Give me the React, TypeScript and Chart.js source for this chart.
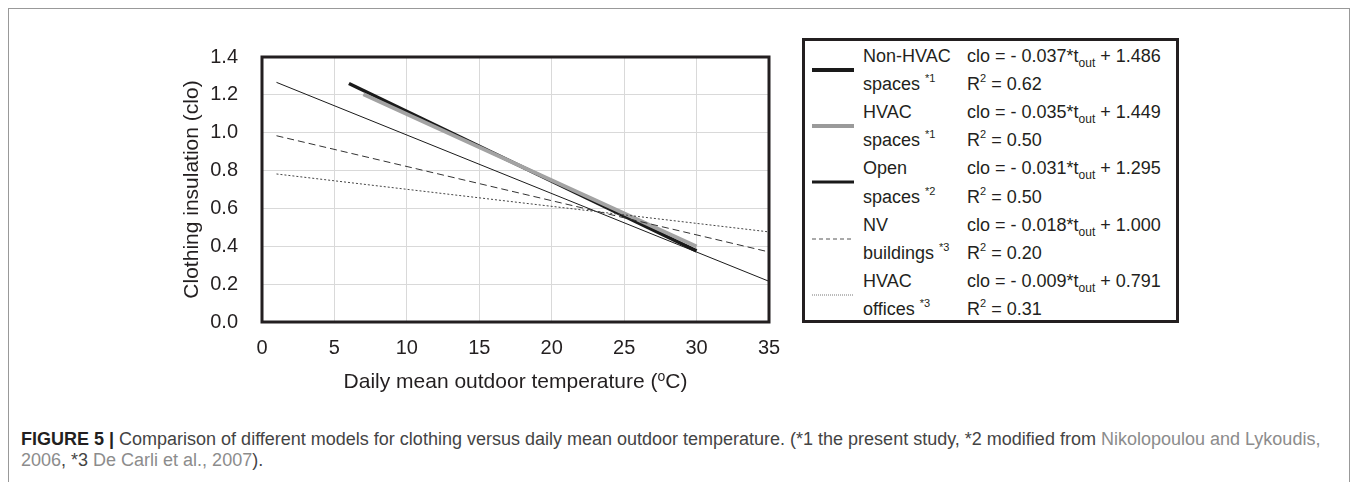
import React, { useEffect, useRef } from "react";
import { Chart, registerables } from "chart.js";

Chart.register(...registerables);

// ---- data ----
const nonHvacX = [6, 30];
const nonHvacY = [1.26, 0.376];
const hvacX = [7, 30];
const hvacY = [1.203, 0.399];
const openX = [1, 35];
const openY = [1.266, 0.215];
const nvX = [1, 35];
const nvY = [0.984, 0.37];
const officesX = [1, 35];
const officesY = [0.782, 0.476];

const xTicks = [0, 5, 10, 15, 20, 25, 30, 35];
const yTicks = [0, 0.2, 0.4, 0.6, 0.8, 1.0, 1.2, 1.4];

const legendLine1 = ["Non-HVAC", "HVAC", "Open", "NV", "HVAC"];
const legendLine2 = ["spaces", "spaces", "spaces", "buildings", "offices"];
const legendRefs = ["*1", "*1", "*2", "*3", "*3"];
const slopes = ["0.037", "0.035", "0.031", "0.018", "0.009"];
const intercepts = ["1.486", "1.449", "1.295", "1.000", "0.791"];
const r2Values = ["0.62", "0.50", "0.50", "0.20", "0.31"];

const INK = "#231f20";
const FONT = "'Liberation Sans', Arial, Helvetica, sans-serif";

const toPts = (xs: number[], ys: number[]) => xs.map((x, i) => ({ x, y: ys[i] }));

const legendStyles = [
  { color: "#1a1a1a", width: 4, dash: "" },
  { color: "#9a9a9a", width: 4, dash: "" },
  { color: "#1a1a1a", width: 3, dash: "" },
  { color: "#555555", width: 1, dash: "4 3" },
  { color: "#777777", width: 1, dash: "1 1" },
];

const framePlugin = {
  id: "frame",
  afterDraw(chart: any) {
    const { ctx, chartArea: a } = chart;
    ctx.save();
    ctx.strokeStyle = INK;
    ctx.lineWidth = 3;
    ctx.strokeRect(a.left, a.top, a.right - a.left, a.bottom - a.top);
    // x-axis title with superscript o
    const main = "Daily mean outdoor temperature (";
    const sup = "o";
    const tail = "C)";
    ctx.fillStyle = INK;
    ctx.textBaseline = "alphabetic";
    ctx.font = `21px ${FONT}`;
    const w1 = ctx.measureText(main).width;
    const w3 = ctx.measureText(tail).width;
    ctx.font = `14px ${FONT}`;
    const w2 = ctx.measureText(sup).width;
    const total = w1 + w2 + w3;
    const cx = (a.left + a.right) / 2;
    let x = cx - total / 2;
    const y = a.bottom + 66;
    ctx.textAlign = "left";
    ctx.font = `21px ${FONT}`;
    ctx.fillText(main, x, y);
    x += w1;
    ctx.font = `14px ${FONT}`;
    ctx.fillText(sup, x, y - 7);
    x += w2;
    ctx.font = `21px ${FONT}`;
    ctx.fillText(tail, x, y);
    ctx.restore();
  },
};

function ChartCanvas() {
  const ref = useRef<HTMLCanvasElement>(null);
  useEffect(() => {
    if (!ref.current) return;
    const chart = new Chart(ref.current, {
      type: "line",
      data: {
        datasets: [
          {
            label: "Non-HVAC spaces",
            data: toPts(nonHvacX, nonHvacY),
            borderColor: "#1a1a1a",
            borderWidth: 3.5,
            pointRadius: 0,
            order: 5,
          },
          {
            label: "HVAC spaces",
            data: toPts(hvacX, hvacY),
            borderColor: "#a3a3a3",
            borderWidth: 4,
            pointRadius: 0,
            order: 4,
          },
          {
            label: "Open spaces",
            data: toPts(openX, openY),
            borderColor: "#1a1a1a",
            borderWidth: 1,
            pointRadius: 0,
            order: 3,
          },
          {
            label: "NV buildings",
            data: toPts(nvX, nvY),
            borderColor: "#333333",
            borderWidth: 1,
            borderDash: [7, 4],
            pointRadius: 0,
            order: 2,
          },
          {
            label: "HVAC offices",
            data: toPts(officesX, officesY),
            borderColor: "#444444",
            borderWidth: 1,
            borderDash: [2, 2],
            pointRadius: 0,
            order: 1,
          },
        ],
      },
      options: {
        animation: false,
        responsive: false,
        devicePixelRatio: 1,
        layout: { padding: { top: 16, right: 32, left: 0, bottom: 0 } },
        plugins: { legend: { display: false }, tooltip: { enabled: false } },
        scales: {
          x: {
            type: "linear",
            min: 0,
            max: 35,
            afterBuildTicks: (s: any) => {
              s.ticks = xTicks.map((v) => ({ value: v }));
            },
            afterFit: (s: any) => {
              s.height = 79;
            },
            grid: { color: "#d9d9d9", lineWidth: 1, drawTicks: false },
            border: { display: false },
            ticks: {
              color: INK,
              font: { size: 20, family: FONT },
              padding: 14,
              maxRotation: 0,
              callback: (v: any) => String(v),
            },
            title: { display: false },
          },
          y: {
            type: "linear",
            min: 0,
            max: 1.4,
            afterBuildTicks: (s: any) => {
              s.ticks = yTicks.map((v) => ({ value: v }));
            },
            afterFit: (s: any) => {
              s.width = 111;
            },
            grid: { color: "#d9d9d9", lineWidth: 1, drawTicks: false },
            border: { display: false },
            ticks: {
              color: INK,
              font: { size: 20, family: FONT },
              padding: 24,
              callback: (v: any) => Number(v).toFixed(1),
            },
            title: {
              display: true,
              text: "Clothing insulation (clo)",
              color: INK,
              font: { size: 21, family: FONT },
              padding: { top: 29, bottom: 0 },
            },
          },
        },
      },
      plugins: [framePlugin],
    });
    return () => chart.destroy();
  }, []);
  return (
    <canvas
      ref={ref}
      width={650}
      height={380}
      style={{ position: "absolute", left: 142, top: 12, width: 650, height: 380 }}
    />
  );
}

function Legend() {
  const lineTop = (i: number) => 1 + 28.1 * i;
  const supStyle: React.CSSProperties = { fontSize: 11, position: "relative", top: -8 };
  const subStyle: React.CSSProperties = { fontSize: 12, position: "relative", top: 5 };
  const rows: React.ReactNode[] = [];
  legendLine1.forEach((l1, k) => {
    const st = legendStyles[k];
    rows.push(
      <svg
        key={`s${k}`}
        width={42}
        height={8}
        style={{ position: "absolute", left: 7, top: 29 + 56.2 * k - 4 }}
      >
        <line
          x1={0}
          y1={4}
          x2={42}
          y2={4}
          stroke={st.color}
          strokeWidth={st.width}
          strokeDasharray={st.dash || undefined}
        />
      </svg>
    );
    const common: React.CSSProperties = {
      position: "absolute",
      height: 28,
      lineHeight: "28px",
      whiteSpace: "nowrap",
    };
    rows.push(
      <div key={`a${k}`} style={{ ...common, left: 58, top: lineTop(2 * k) }}>
        {l1}
      </div>
    );
    rows.push(
      <div key={`b${k}`} style={{ ...common, left: 58, top: lineTop(2 * k + 1) }}>
        {legendLine2[k]} <span style={supStyle}>{legendRefs[k]}</span>
      </div>
    );
    rows.push(
      <div key={`c${k}`} style={{ ...common, left: 162, top: lineTop(2 * k) }}>
        clo = - {slopes[k]}*t<span style={subStyle}>out</span> + {intercepts[k]}
      </div>
    );
    rows.push(
      <div key={`d${k}`} style={{ ...common, left: 162, top: lineTop(2 * k + 1) }}>
        R<span style={supStyle}>2</span> = {r2Values[k]}
      </div>
    );
  });
  return (
    <div
      style={{
        position: "absolute",
        left: 793,
        top: 29,
        width: 377,
        height: 285,
        border: `3px solid ${INK}`,
        boxSizing: "border-box",
        fontFamily: FONT,
        fontSize: 18,
        color: INK,
      }}
    >
      {rows}
    </div>
  );
}

export default function App() {
  const link: React.CSSProperties = { color: "#8c8c8c" };
  return (
    <div
      style={{
        position: "relative",
        width: 1342,
        height: 474,
        border: "1px solid #999",
        borderBottom: "none",
        boxSizing: "border-box",
        overflow: "hidden",
        background: "#fff",
      }}
    >
      <ChartCanvas />
      <Legend />
      <div
        style={{
          position: "absolute",
          left: 12,
          top: 420,
          fontFamily: FONT,
          fontSize: 18,
          lineHeight: "21px",
          color: "#444",
          whiteSpace: "nowrap",
        }}
      >
        <div>
          <b style={{ color: INK }}>FIGURE 5 |</b> Comparison of different models for clothing versus daily mean
          outdoor temperature. (*1 the present study, *2 modified from{" "}
          <span style={link}>Nikolopoulou and Lykoudis,</span>
        </div>
        <div>
          <span style={link}>2006</span>, *3 <span style={link}>De Carli et al., 2007</span>).
        </div>
      </div>
    </div>
  );
}
